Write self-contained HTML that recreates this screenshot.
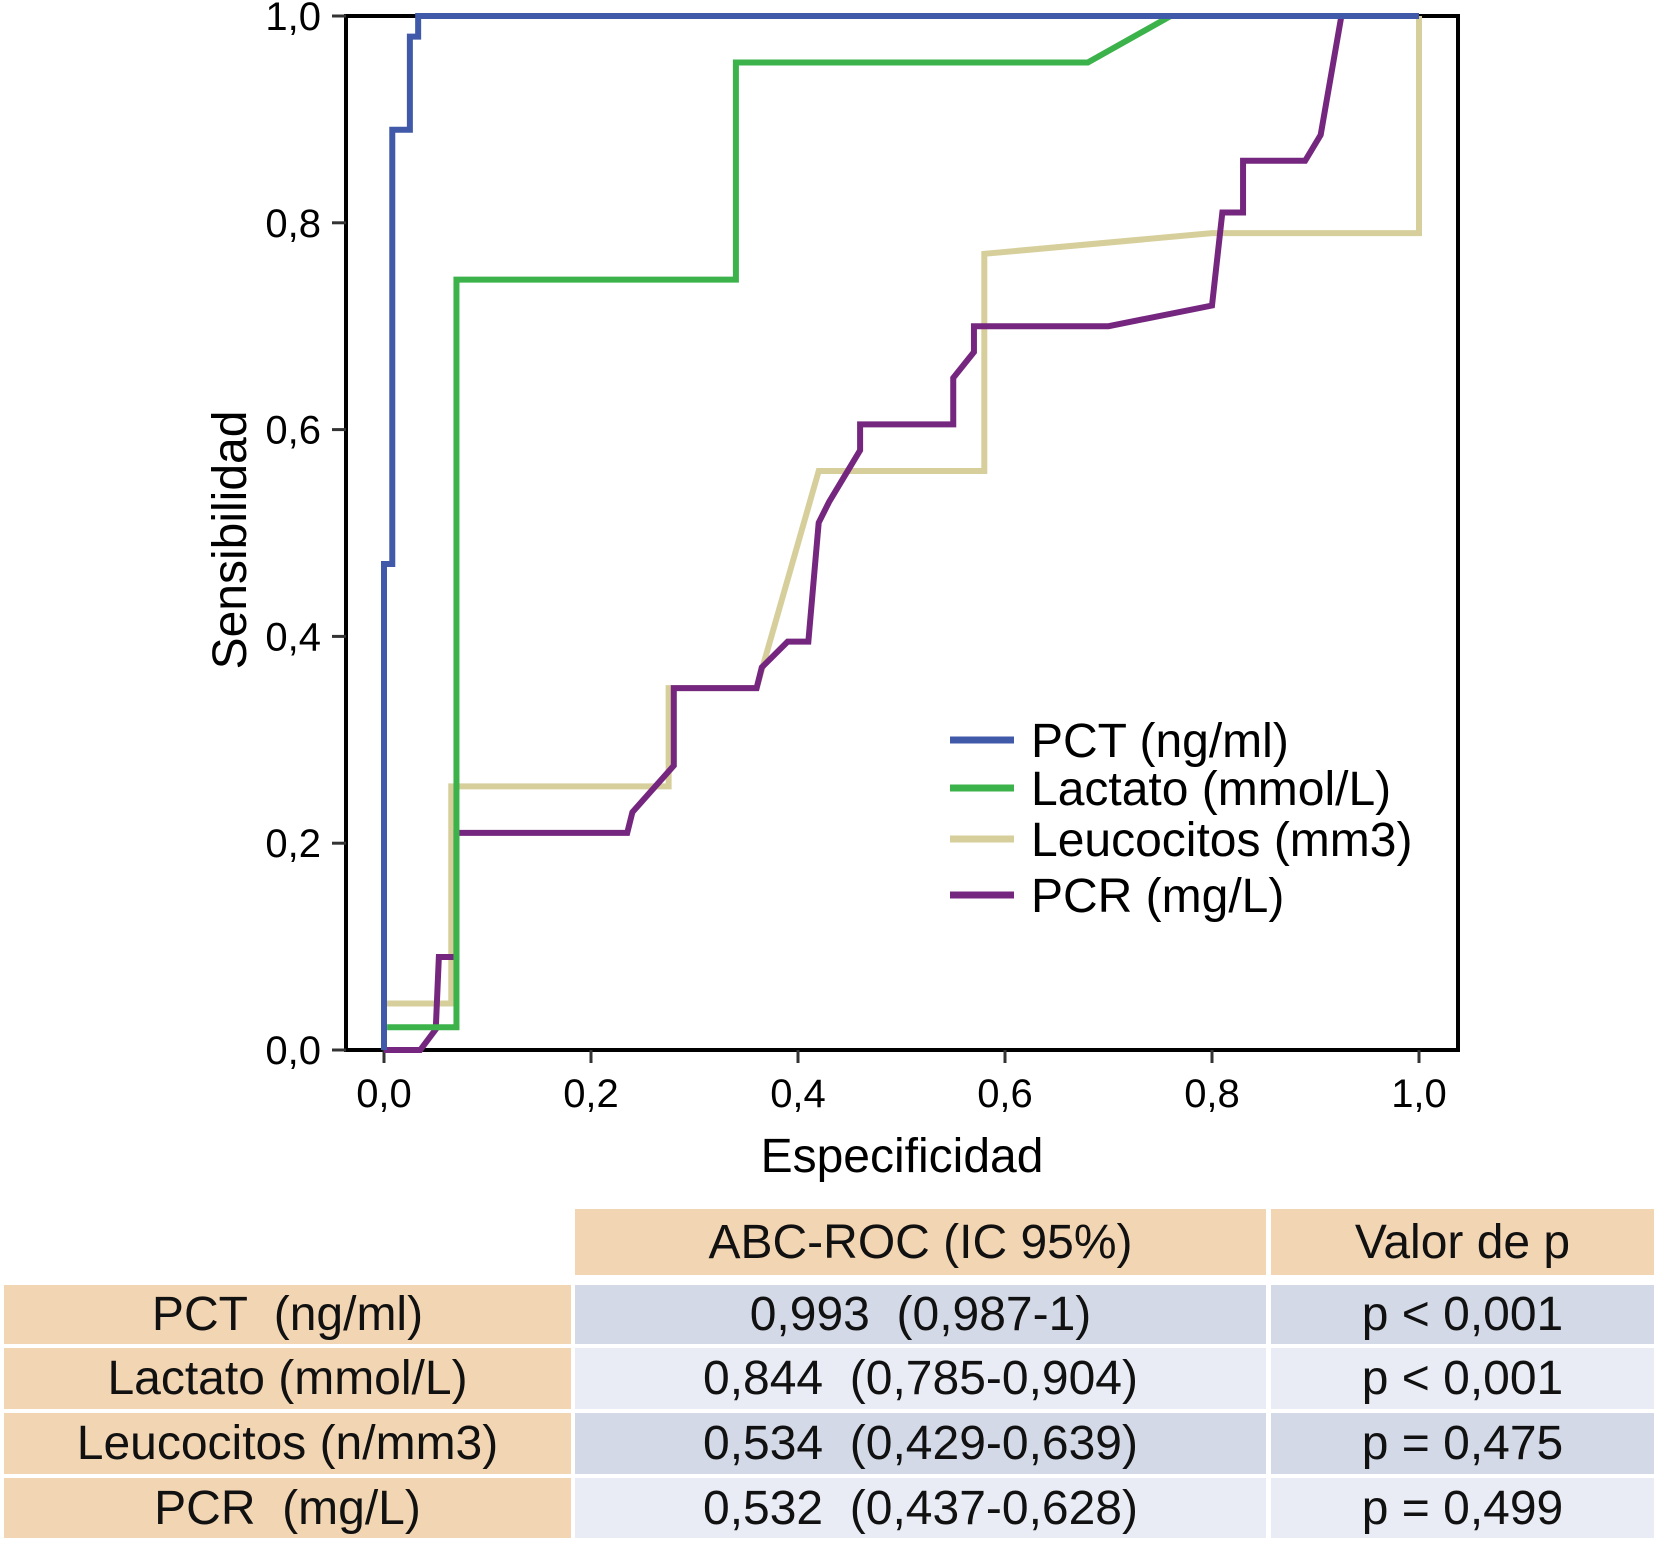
<!DOCTYPE html>
<html><head><meta charset="utf-8">
<style>
html,body{margin:0;padding:0;background:#fff;}
body{width:1659px;height:1542px;position:relative;overflow:hidden;font-family:"Liberation Sans",sans-serif;}
svg text{font-family:"Liberation Sans",sans-serif;fill:#000;}
.cell{position:absolute;display:flex;align-items:center;justify-content:center;font-size:48px;color:#111;white-space:pre;}
.or{background:#f2d5b3;}
.bd{background:#d3d9e6;}
.bl{background:#e9ecf4;}
</style></head>
<body>
<svg id="chart" width="1659" height="1200" style="position:absolute;left:0;top:0">
<g id="marks"></g>
</svg>
<div class="cell or" style="left:575px;top:1209px;width:691px;height:66px;">ABC-ROC (IC 95%)</div>
<div class="cell or" style="left:1271px;top:1209px;width:383px;height:66px;">Valor de p</div>

<div class="cell or" style="left:4px;top:1285px;width:567px;height:59px;">PCT  (ng/ml)</div>
<div class="cell bd" style="left:575px;top:1285px;width:691px;height:59px;">0,993  (0,987-1)</div>
<div class="cell bd" style="left:1271px;top:1285px;width:383px;height:59px;">p &lt; 0,001</div>

<div class="cell or" style="left:4px;top:1348px;width:567px;height:61px;">Lactato (mmol/L)</div>
<div class="cell bl" style="left:575px;top:1348px;width:691px;height:61px;">0,844  (0,785-0,904)</div>
<div class="cell bl" style="left:1271px;top:1348px;width:383px;height:61px;">p &lt; 0,001</div>

<div class="cell or" style="left:4px;top:1413px;width:567px;height:61px;">Leucocitos (n/mm3)</div>
<div class="cell bd" style="left:575px;top:1413px;width:691px;height:61px;">0,534  (0,429-0,639)</div>
<div class="cell bd" style="left:1271px;top:1413px;width:383px;height:61px;">p = 0,475</div>

<div class="cell or" style="left:4px;top:1478px;width:567px;height:60px;">PCR  (mg/L)</div>
<div class="cell bl" style="left:575px;top:1478px;width:691px;height:60px;">0,532  (0,437-0,628)</div>
<div class="cell bl" style="left:1271px;top:1478px;width:383px;height:60px;">p = 0,499</div>

<script>
const tickValues = [0, 0.2, 0.4, 0.6, 0.8, 1.0];
const tickLabels = ["0,0", "0,2", "0,4", "0,6", "0,8", "1,0"];
const seriesNames = ["PCT (ng/ml)", "Lactato (mmol/L)", "Leucocitos (mm3)", "PCR (mg/L)"];
const pctX = [0, 0, 0.008, 0.008, 0.025, 0.025, 0.033, 0.033, 1];
const pctY = [0, 0.47, 0.47, 0.89, 0.89, 0.98, 0.98, 1, 1];
const lactX = [0.003, 0.07, 0.07, 0.34, 0.34, 0.68, 0.76, 1];
const lactY = [0.022, 0.022, 0.745, 0.745, 0.955, 0.955, 1, 1];
const leucX = [0, 0, 0.065, 0.065, 0.275, 0.275, 0.36, 0.42, 0.58, 0.58, 0.8, 1, 1];
const leucY = [0, 0.045, 0.045, 0.255, 0.255, 0.35, 0.35, 0.56, 0.56, 0.77, 0.79, 0.79, 1];
const pcrX = [0, 0.035, 0.05, 0.053, 0.07, 0.07, 0.235, 0.24, 0.28, 0.28, 0.36, 0.365, 0.39, 0.41, 0.42, 0.43, 0.46, 0.46, 0.55, 0.55, 0.57, 0.57, 0.7, 0.8, 0.81, 0.83, 0.83, 0.89, 0.905, 0.925, 1];
const pcrY = [0, 0, 0.02, 0.09, 0.09, 0.21, 0.21, 0.23, 0.275, 0.35, 0.35, 0.37, 0.395, 0.395, 0.51, 0.53, 0.58, 0.605, 0.605, 0.65, 0.675, 0.7, 0.7, 0.72, 0.81, 0.81, 0.86, 0.86, 0.885, 1, 1];

const NS = "http://www.w3.org/2000/svg";
const X0 = 384, X1 = 1419, Y0 = 1050, Y1 = 16;
const xs = v => X0 + (X1 - X0) * v;
const ys = v => Y0 - (Y0 - Y1) * v;
const g = document.getElementById('marks');
function mk(tag, attrs) { const e = document.createElementNS(NS, tag); for (const k in attrs) e.setAttribute(k, attrs[k]); g.appendChild(e); return e; }

const fr = mk('rect', {x: 346, y: 16, width: 1112, height: 1034, fill: 'none', stroke: '#000', 'stroke-width': 4});



tickValues.forEach((v, i) => {
  const ty = mk('line', {x1: 332, x2: 346, y1: ys(v), y2: ys(v), stroke: '#333', 'stroke-width': 3});
  
  
  const ly = mk('text', {x: 321, y: ys(v) + 14, 'text-anchor': 'end', 'font-size': 40});
  ly.textContent = tickLabels[i];
  
  
  const tx = mk('line', {x1: xs(v), x2: xs(v), y1: 1050, y2: 1063, stroke: '#333', 'stroke-width': 3});
  
  
  const lx = mk('text', {x: xs(v), y: 1107, 'text-anchor': 'middle', 'font-size': 40});
  lx.textContent = tickLabels[i];
  
  
});

const xt = mk('text', {x: 902, y: 1172, 'text-anchor': 'middle', 'font-size': 48});
xt.textContent = 'Especificidad';


const yt = mk('text', {x: 0, y: 0, 'text-anchor': 'middle', 'font-size': 48, transform: 'translate(246,540) rotate(-90)'});
yt.textContent = 'Sensibilidad';



const series = [
  {x: leucX, y: leucY, c: '#d7cf9b', n: 'leucocitos-line'},
  {x: pcrX, y: pcrY, c: '#75277f', n: 'pcr-line'},
  {x: lactX, y: lactY, c: '#3bb34a', n: 'lactato-line'},
  {x: pctX, y: pctY, c: '#4059a8', n: 'pct-line'}
];
series.forEach(s => {
  const pts = s.x.map((v, i) => xs(v) + ',' + ys(s.y[i])).join(' ');
  const p = mk('polyline', {points: pts, fill: 'none', stroke: s.c, 'stroke-width': 6, 'stroke-linejoin': 'miter'});
  
  
});

const legColors = ['#4059a8', '#3bb34a', '#d7cf9b', '#75277f'];
const legY = [740, 788, 839, 895];
seriesNames.forEach((n, i) => {
  const l = mk('line', {x1: 950, x2: 1014, y1: legY[i], y2: legY[i], stroke: legColors[i], 'stroke-width': 7});
  
  
  const t = mk('text', {x: 1031, y: legY[i] + 17, 'font-size': 48});
  t.textContent = n;
  
  
});
</script>
</body></html>
